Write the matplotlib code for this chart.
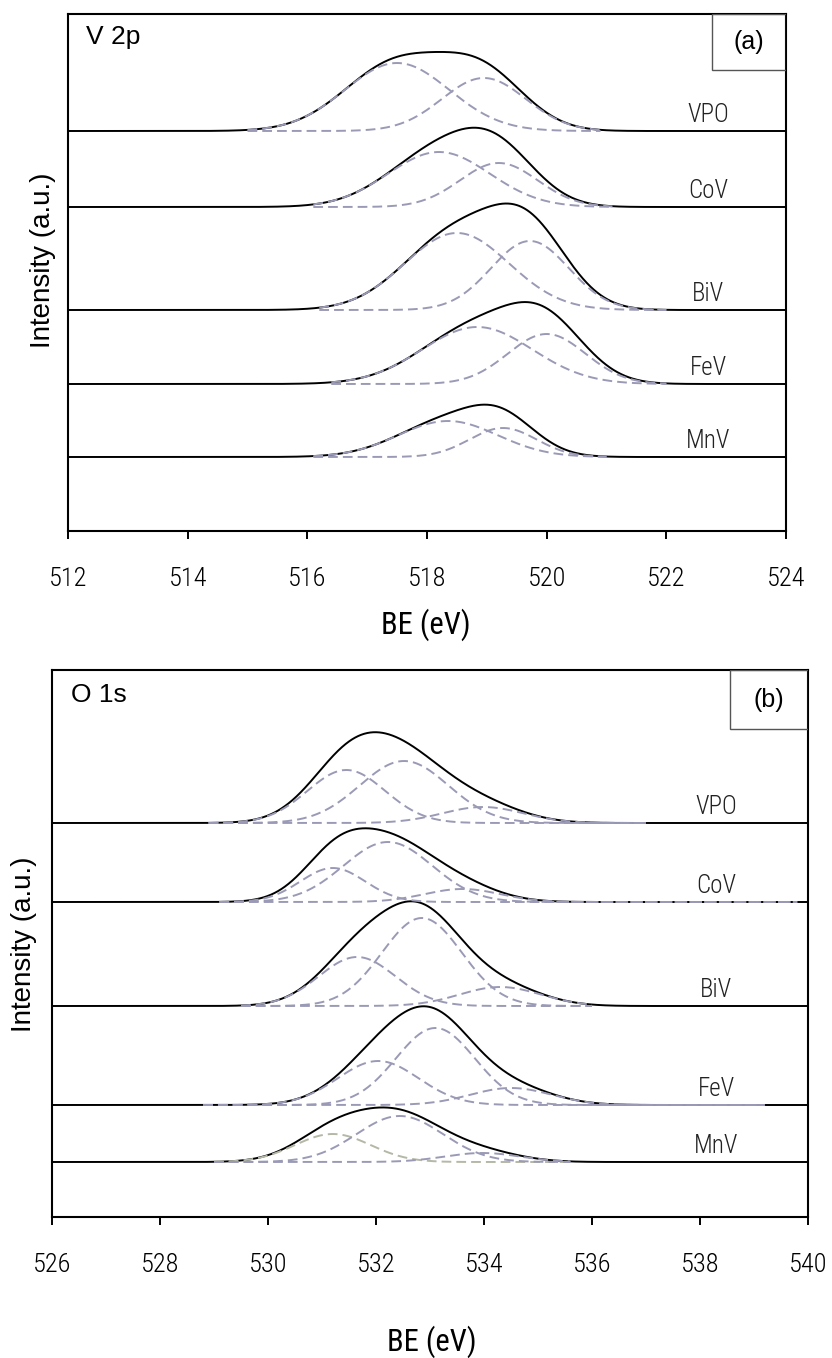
"""Stacked XPS spectra (V 2p and O 1s) with fitted Gaussian components."""

import numpy as np
import matplotlib
matplotlib.use('Agg')
import matplotlib.pyplot as plt
from matplotlib import font_manager as fm
from matplotlib.patches import Rectangle

# Pick a condensed face for the numbers and sample names if one exists
have = {f.name for f in fm.fontManager.ttflist}
narrow = [n for n in ['Liberation Sans Narrow', 'Arial Narrow', 'Roboto Condensed']
          if n in have] + ['DejaVu Sans']
plain = ['Liberation Sans', 'DejaVu Sans']

samples = ['VPO', 'CoV', 'BiV', 'FeV', 'MnV']

# V 2p region: vertical offsets of each trace and the fitted peaks
v2p_offset = [400, 324, 221, 147, 74]
v2p_center = [[517.50, 518.95], [518.20, 519.20], [518.50, 519.72],
              [518.84, 520.00], [518.35, 519.27]]
v2p_height = [[68, 53], [55, 44], [77, 69], [57, 50], [36, 29]]
v2p_sigma = [[0.87, 0.70], [0.85, 0.65], [0.87, 0.65], [0.92, 0.65], [0.83, 0.56]]
v2p_window = [[515.0, 520.9], [516.1, 521.1], [516.2, 522.0], [516.4, 522.0], [516.1, 521.0]]

# O 1s region
o1s_offset = [394, 315, 211, 112, 55]
o1s_center = [[531.45, 532.52, 533.98], [531.20, 532.22, 533.60], [531.65, 532.85, 534.30],
              [532.04, 533.10, 534.50], [531.20, 532.44, 533.97]]
o1s_height = [[53, 62, 16], [34, 60, 13], [49, 88, 19], [44, 77, 17], [28, 46, 9]]
o1s_sigma = [[0.72, 0.82, 0.75], [0.60, 0.82, 0.70], [0.71, 0.74, 0.75],
             [0.75, 0.73, 0.75], [0.70, 0.80, 0.70]]
o1s_window = [[528.9, 537.0], [529.1, 539.8], [529.5, 536.0], [528.8, 539.2], [529.0, 535.6]]

comp_color = '#9a9ab6'
odd_color = '#b4b8a6'   # first MnV O 1s component


def gauss(x, c, h, s):
    return h * np.exp(-(x - c) ** 2 / (2 * s ** 2))


def draw_panel(ax, xlim, offset, center, height, sigma, window, ylim, label_x,
               region, tag, odd=None):
    x = np.linspace(xlim[0], xlim[1], 1500)
    for i, name in enumerate(samples):
        total = np.zeros_like(x)
        for c, h, s in zip(center[i], height[i], sigma[i]):
            total += gauss(x, c, h, s)
        ax.plot(x, offset[i] + total, color='black', lw=1.4, zorder=2)
        xw = np.linspace(window[i][0], window[i][1], 600)
        for j, (c, h, s) in enumerate(zip(center[i], height[i], sigma[i])):
            col = odd_color if odd == (i, j) else comp_color
            line, = ax.plot(xw, offset[i] + gauss(xw, c, h, s), color=col,
                            lw=1.4, zorder=3)
            line.set_dashes((5, 2.6))
        ax.text(label_x, offset[i] + 4, name, ha='center', va='bottom',
                fontsize=18, family=narrow, stretch='condensed', weight='light',
                color='#222222')
    ax.set_xlim(xlim)
    ax.set_ylim(ylim)
    ax.set_yticks([])
    for sp in ax.spines.values():
        sp.set_linewidth(1.5)
    ax.tick_params(axis='x', direction='out', length=6, width=1.4, pad=20,
                   labelsize=19)
    for lab in ax.get_xticklabels():
        lab.set_family(narrow)
        lab.set_stretch('condensed')
        lab.set_weight('light')
    ax.text(0.025, 0.955, region, transform=ax.transAxes, ha='left',
            va='center', fontsize=19, family=plain)
    ax.add_patch(Rectangle((0.897, 0.892), 0.103, 0.108, transform=ax.transAxes,
                           fill=False, edgecolor='#555555', lw=1.0, zorder=4))
    ax.text(0.9485, 0.946, tag, transform=ax.transAxes, ha='center',
            va='center', fontsize=18, family=plain)


fig = plt.figure(figsize=(8.32, 13.58), dpi=100)

ax1 = fig.add_axes([68 / 832, 1 - 531 / 1358, 718 / 832, 517 / 1358])
draw_panel(ax1, (512, 524), v2p_offset, v2p_center, v2p_height, v2p_sigma,
           v2p_window, (0, 517), 522.7, 'V 2p', '(a)')
ax1.set_xticks(np.arange(512, 525, 2))
ax1.set_xlabel('BE (eV)', fontsize=22, family=narrow, stretch='condensed')
ax1.xaxis.set_label_coords(0.4986, -0.150)
ax1.set_ylabel('Intensity (a.u.)', fontsize=20, family=plain)
ax1.yaxis.set_label_coords(-0.017, 0.524)

ax2 = fig.add_axes([52 / 832, 1 - 1217 / 1358, 756 / 832, 547 / 1358])
draw_panel(ax2, (526, 540), o1s_offset, o1s_center, o1s_height, o1s_sigma,
           o1s_window, (0, 547), 538.3, 'O 1s', '(b)', odd=(4, 0))
ax2.set_xticks(np.arange(526, 541, 2))
ax2.set_xlabel('BE (eV)', fontsize=22, family=narrow, stretch='condensed')
ax2.xaxis.set_label_coords(0.503, -0.198)
ax2.set_ylabel('Intensity (a.u.)', fontsize=20, family=plain)
ax2.yaxis.set_label_coords(-0.02, 0.499)

fig.savefig('out.png', dpi=100)
